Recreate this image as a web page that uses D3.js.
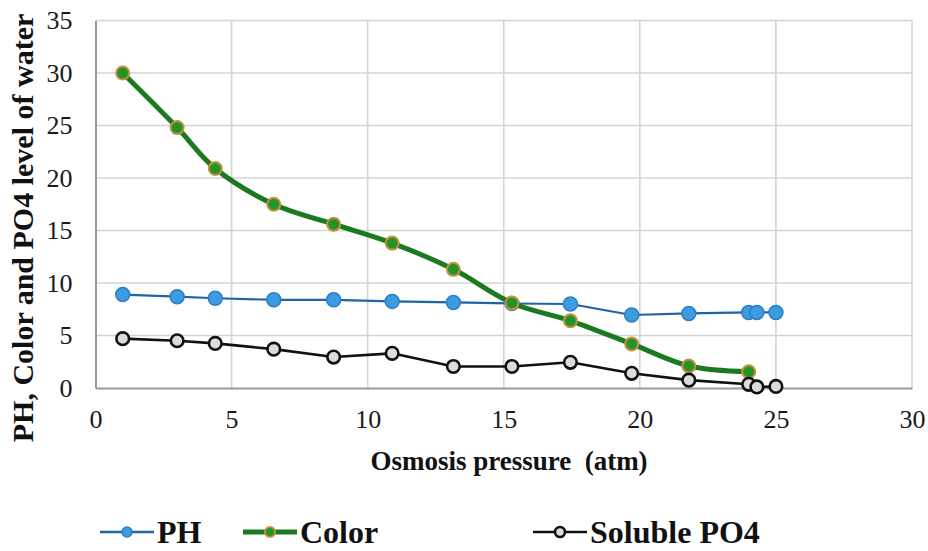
<!DOCTYPE html>
<html>
<head>
<meta charset="utf-8">
<script src="https://cdn.jsdelivr.net/npm/d3@7"></script>
<style>
  html, body { margin: 0; padding: 0; background: #fff; }
  svg { display: block; }
</style>
</head>
<body>
<svg id="chart" width="928" height="551"></svg>
<script>
// Osmosis pressure (atm) for each measurement
const pressure = [1, 3, 4.4, 6.55, 8.75, 10.9, 13.15, 15.3, 17.45, 19.7, 21.8, 24, 24.3, 25];
// Measured water quality values at each pressure
const phValues    = [8.9, 8.7, 8.55, 8.4, 8.4, 8.25, 8.15, 8.05, 8.0, 6.95, 7.1, 7.2, 7.2, 7.2];
const colorValues = [30, 24.8, 20.9, 17.5, 15.6, 13.8, 11.3, 8.1, 6.4, 4.2, 2.1, 1.55];
const po4Values   = [4.7, 4.5, 4.25, 3.7, 2.95, 3.3, 2.05, 2.05, 2.45, 1.4, 0.75, 0.35, 0.1, 0.15];

const seriesNames = ["PH", "Color", "Soluble PO4"];
const xTicks = [0, 5, 10, 15, 20, 25, 30];
const yTicks = [0, 5, 10, 15, 20, 25, 30, 35];

const svg = d3.select("#chart");
const font = "'Liberation Serif', 'Times New Roman', serif";

const plot = { left: 95.5, right: 912, top: 20.5, bottom: 388 };
const x = d3.scaleLinear().domain([0, 30]).range([plot.left, plot.right]);
const y = d3.scaleLinear().domain([0, 35]).range([plot.bottom, plot.top]);

// Gridlines
const grid = svg.append("g");
grid.selectAll("line.v").data(xTicks.slice(1)).join("line")
  .attr("x1", d => x(d)).attr("x2", d => x(d))
  .attr("y1", plot.top).attr("y2", plot.bottom)
  .attr("stroke", "#d4d4d4").attr("stroke-width", 1.6);
grid.selectAll("line.h").data(yTicks.slice(1)).join("line")
  .attr("x1", plot.left).attr("x2", plot.right)
  .attr("y1", d => y(d)).attr("y2", d => y(d))
  .attr("stroke", "#d4d4d4").attr("stroke-width", 1.6);

// Axes
const xAxis = svg.append("g").attr("transform", `translate(0,${plot.bottom})`)
  .call(d3.axisBottom(x).tickValues(xTicks).tickSize(0).tickPadding(31));
const yAxis = svg.append("g").attr("transform", `translate(${plot.left},0)`)
  .call(d3.axisLeft(y).tickValues(yTicks).tickSize(0).tickPadding(23));
[xAxis, yAxis].forEach(a => {
  a.attr("font-family", null).attr("font-size", null);
  a.select(".domain").attr("stroke", "#9a9a9a").attr("stroke-width", 2);
  a.selectAll("text")
    .style("font-family", font).style("font-size", "26px").attr("fill", "#1a1a1a");
});
xAxis.selectAll("text").attr("dy", "0.35em");

// Axis titles
svg.append("text")
  .attr("x", 509).attr("y", 470)
  .attr("text-anchor", "middle")
  .style("font-family", font).attr("font-weight", "bold").attr("font-size", 27)
  .attr("fill", "#111")
  .style("white-space", "pre")
  .text("Osmosis pressure  (atm)");
svg.append("text")
  .attr("transform", "translate(33,228) rotate(-90)")
  .attr("text-anchor", "middle")
  .style("font-family", font).attr("font-weight", "bold").attr("font-size", 30)
  .attr("fill", "#111")
  .text("PH, Color and PO4 level of water");

// Series styling
const styles = [
  { name: seriesNames[0], values: phValues, line: "#1f65a6", lw: 2.2, fill: "#3d9be0", stroke: "#2a7fc4", sw: 1.5, r: 7, curve: d3.curveLinear },
  { name: seriesNames[1], values: colorValues, line: "#1b7a1f", lw: 5, fill: "#239428", stroke: "#c8903f", sw: 2, r: 6.5, curve: d3.curveCatmullRom },
  { name: seriesNames[2], values: po4Values, line: "#111111", lw: 2.6, fill: "#dcdcdc", stroke: "#111111", sw: 2.6, r: 6.3, curve: d3.curveLinear }
];

styles.forEach(s => {
  const pts = s.values.map((v, i) => [pressure[i], v]);
  const g = svg.append("g");
  g.append("path")
    .datum(pts)
    .attr("fill", "none")
    .attr("stroke", s.line).attr("stroke-width", s.lw)
    .attr("stroke-linejoin", "round").attr("stroke-linecap", "round")
    .attr("d", d3.line().x(d => x(d[0])).y(d => y(d[1])).curve(s.curve));
  g.selectAll("circle").data(pts).join("circle")
    .attr("cx", d => x(d[0])).attr("cy", d => y(d[1]))
    .attr("r", s.r)
    .attr("fill", s.fill).attr("stroke", s.stroke).attr("stroke-width", s.sw);
});

// Legend
const legendPos = [100, 243, 533];
const legend = svg.append("g");
styles.forEach((s, i) => {
  const lx = legendPos[i];
  const ly = 532;
  const g = legend.append("g");
  g.append("line").attr("x1", lx).attr("x2", lx + 54).attr("y1", ly).attr("y2", ly)
    .attr("stroke", s.line).attr("stroke-width", Math.max(s.lw, 2.5));
  g.append("circle").attr("cx", lx + 27).attr("cy", ly).attr("r", 5)
    .attr("fill", s.fill).attr("stroke", s.stroke).attr("stroke-width", s.sw);
  g.append("text").attr("x", lx + 57).attr("y", 543)
    .style("font-family", font).attr("font-weight", "bold").attr("font-size", 32)
    .attr("fill", "#111")
    .text(s.name);
});
</script>
</body>
</html>
